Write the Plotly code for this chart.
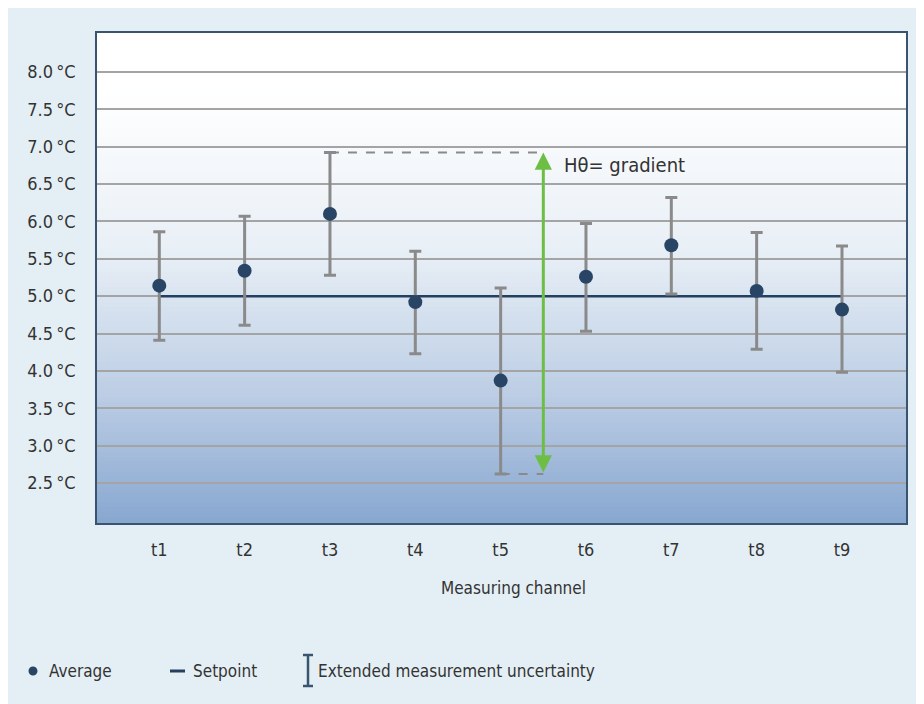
import plotly.graph_objects as go

# ---- data ----
channels = ["t1", "t2", "t3", "t4", "t5", "t6", "t7", "t8", "t9"]
average = [5.14, 5.34, 6.10, 4.92, 3.87, 5.26, 5.68, 5.07, 4.82]
upper = [5.86, 6.07, 6.92, 5.60, 5.11, 5.97, 6.32, 5.85, 5.67]
lower = [4.41, 4.61, 5.28, 4.23, 2.62, 4.53, 5.03, 4.29, 3.98]
setpoint = 5.0
ytick_vals = [2.5, 3.0, 3.5, 4.0, 4.5, 5.0, 5.5, 6.0, 6.5, 7.0, 7.5, 8.0]
ytick_text = [f"{v:.1f}\u2009°C" for v in ytick_vals]

W, H = 924, 704
OFF = 8  # page offset of the figure (body margin)
L, R, T, B = 97 - OFF, 906 - OFF, 33 - OFF, 523 - OFF
FONT = "Liberation Sans Narrow, DejaVu Sans Condensed, Arial Narrow, sans-serif"
NAVY = "#25405f"
GREY = "#8a8a8a"
GREEN = "#6dbe45"
TXT = "#333333"

def px(xp):  # page x -> paper
    return (xp - OFF - L) / (R - L)

def py(yp):  # page y -> paper
    return (B - (yp - OFF)) / (B - T)

err_plus = [u - a for u, a in zip(upper, average)]
err_minus = [a - l for a, l in zip(average, lower)]

fig = go.Figure()
fig.add_trace(go.Scatter(
    x=channels, y=[setpoint] * len(channels), mode="lines",
    line=dict(color=NAVY, width=2.5), showlegend=False, hoverinfo="skip"))
fig.add_trace(go.Scatter(
    x=channels, y=average, mode="markers",
    marker=dict(color="#284566", size=14),
    error_y=dict(type="data", symmetric=False, array=err_plus, arrayminus=err_minus,
                 color=GREY, thickness=3, width=6),
    showlegend=False))

shapes = []
# gradient background of plot area
stops = [(0.0, (255, 255, 255)), (0.12, (255, 255, 255)), (0.45, (232, 239, 246)),
         (0.75, (186, 204, 228)), (1.0, (136, 167, 208))]

def grad(t):
    for (t0, c0), (t1, c1) in zip(stops[:-1], stops[1:]):
        if t0 <= t <= t1:
            f = (t - t0) / (t1 - t0) if t1 > t0 else 0
            return "rgb(%d,%d,%d)" % tuple(round(a + (b - a) * f) for a, b in zip(c0, c1))
    return "rgb(136,167,208)"

n = 98
for i in range(n):
    shapes.append(dict(type="rect", xref="paper", yref="paper", x0=0, x1=1,
                       y0=1 - (i + 1) / n, y1=1 - i / n + 0.002,
                       fillcolor=grad((i + 0.5) / n), line=dict(width=0), layer="below"))

# dashed guides to gradient arrow
hi_i = max(range(len(upper)), key=lambda i: upper[i])
lo_i = min(range(len(lower)), key=lambda i: lower[i])
arrow_x = 4.5
shapes.append(dict(type="line", xref="x", yref="y", x0=hi_i, x1=arrow_x, y0=upper[hi_i], y1=upper[hi_i],
                   line=dict(color=GREY, width=2, dash="dash")))
shapes.append(dict(type="line", xref="x", yref="y", x0=lo_i, x1=arrow_x, y0=lower[lo_i], y1=lower[lo_i],
                   line=dict(color=GREY, width=2, dash="dash")))

# legend
leg_y = 671
shapes.append(dict(type="circle", xref="paper", yref="paper", x0=px(28.5), x1=px(37.5), y0=py(leg_y + 4.5), y1=py(leg_y - 4.5),
                   fillcolor="#284566", line=dict(width=0)))
shapes.append(dict(type="line", xref="paper", yref="paper", x0=px(170), x1=px(185), y0=py(leg_y), y1=py(leg_y),
                   line=dict(color=NAVY, width=3)))
shapes.append(dict(type="line", xref="paper", yref="paper", x0=px(308), x1=px(308), y0=py(686), y1=py(655),
                   line=dict(color="#3a5470", width=2.5)))
shapes.append(dict(type="line", xref="paper", yref="paper", x0=px(303), x1=px(313), y0=py(655), y1=py(655),
                   line=dict(color="#3a5470", width=2.5)))
shapes.append(dict(type="line", xref="paper", yref="paper", x0=px(303), x1=px(313), y0=py(686), y1=py(686),
                   line=dict(color="#3a5470", width=2.5)))

annotations = [
    dict(x=arrow_x, y=upper[hi_i], ax=arrow_x, ay=lower[lo_i], xref="x", yref="y", axref="x", ayref="y",
         text="", showarrow=True, arrowhead=2, startarrowhead=2, arrowside="end+start",
         arrowsize=1.15, startarrowsize=1.15, arrowwidth=3, arrowcolor=GREEN, standoff=0, startstandoff=0),
    dict(x=4.72, y=6.75, xref="x", yref="y", text="H\u03b8= gradient", showarrow=False,
         xanchor="left", yanchor="middle", font=dict(size=20, color=TXT, family=FONT)),
    dict(x=px(513), y=py(588), xref="paper", yref="paper", text="Measuring channel", showarrow=False,
         xanchor="center", yanchor="middle", font=dict(size=17, color=TXT, family=FONT)),
    dict(x=px(47), y=py(leg_y), xref="paper", yref="paper", text="Average", showarrow=False,
         xanchor="left", yanchor="middle", font=dict(size=17, color=TXT, family=FONT)),
    dict(x=px(191), y=py(leg_y), xref="paper", yref="paper", text="Setpoint", showarrow=False,
         xanchor="left", yanchor="middle", font=dict(size=17, color=TXT, family=FONT)),
    dict(x=px(316), y=py(leg_y), xref="paper", yref="paper", text="Extended measurement uncertainty", showarrow=False,
         xanchor="left", yanchor="middle", font=dict(size=17, color=TXT, family=FONT)),
]

fig.update_layout(
    width=W, height=H,
    margin=dict(l=L, r=W - R, t=T, b=H - B, pad=0),
    paper_bgcolor="#e4eff5", plot_bgcolor="#ffffff",
    shapes=shapes, annotations=annotations, showlegend=False,
    font=dict(family=FONT, size=18, color=TXT),
    xaxis=dict(range=[-0.73, 8.75], showgrid=False, zeroline=False, ticks="", ticklen=0,
               showline=True, mirror=True, linecolor="#3a5470", linewidth=1.5,
               tickfont=dict(size=18, color=TXT), ticklabelstandoff=10),
    yaxis=dict(range=[1.965, 8.52], tickvals=ytick_vals, ticktext=ytick_text,
               showgrid=True, gridcolor="#a4a4a4", gridwidth=1.5, zeroline=False, ticks="",
               showline=True, mirror=True, linecolor="#3a5470", linewidth=1.5,
               tickfont=dict(size=18, color=TXT), ticklabelstandoff=16),
)

fig.write_html("out.html")
